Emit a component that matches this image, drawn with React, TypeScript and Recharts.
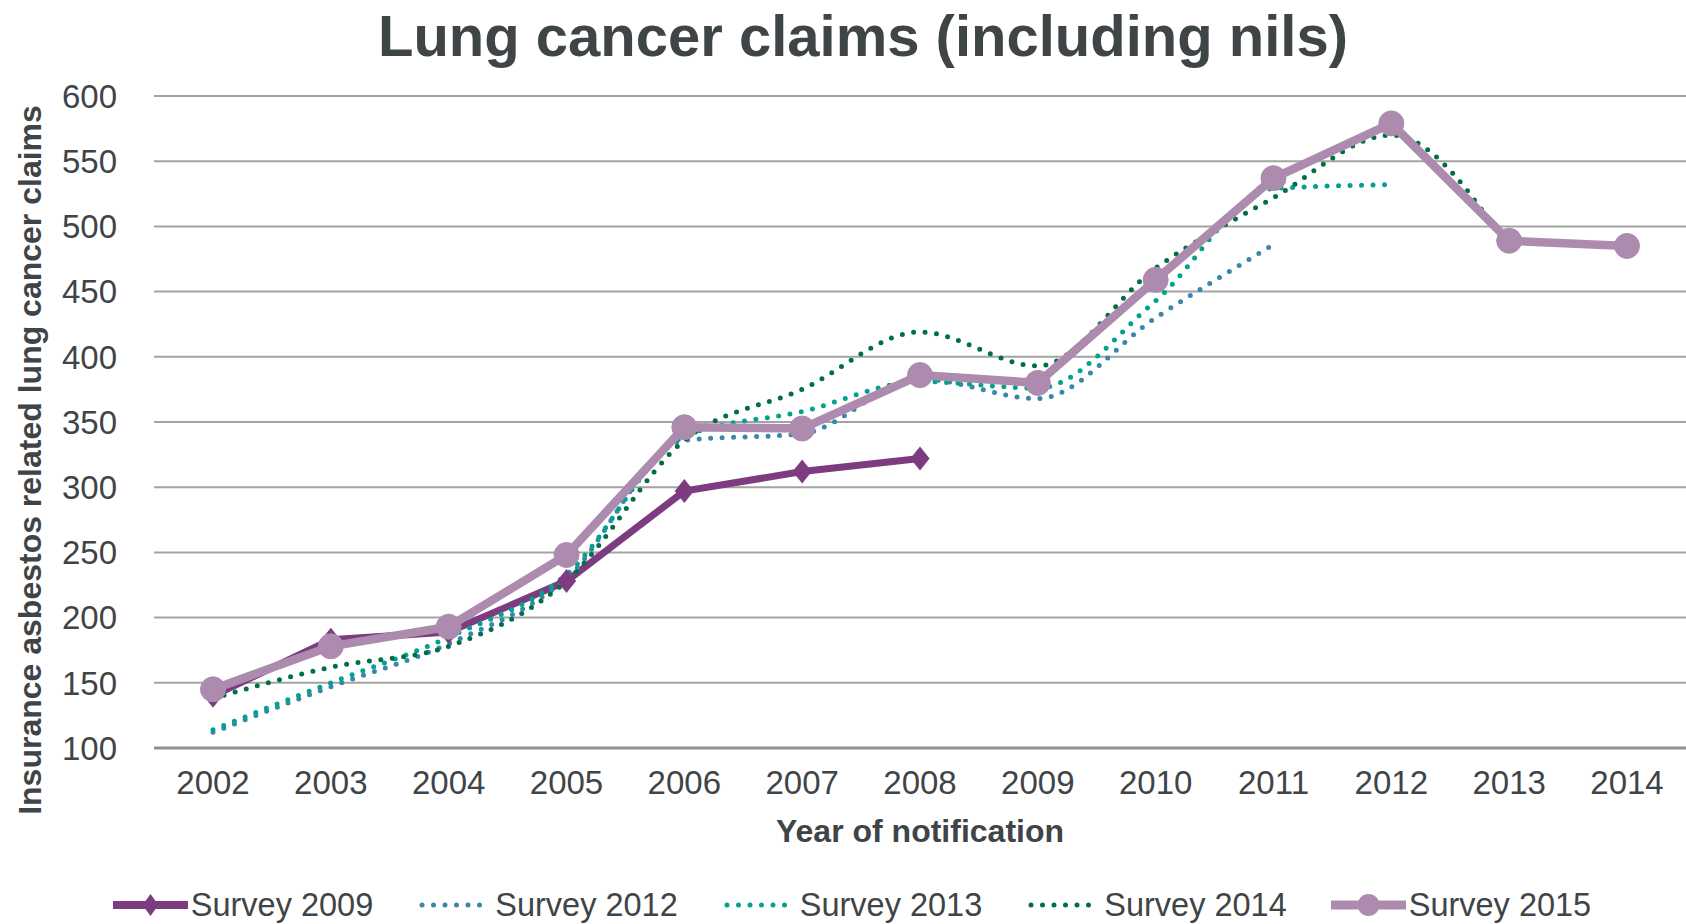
import { CartesianGrid, Line, LineChart, XAxis, YAxis } from "recharts";

const YEARS = ["2002", "2003", "2004", "2005", "2006", "2007", "2008", "2009", "2010", "2011", "2012", "2013", "2014"];

const SURVEY_2009 = [140, 183, 189, 228, 297, 312, 322, null, null, null, null, null, null];
const SURVEY_2012 = [112, 147, 180, 230, 336, 341, 383, 368, 430, 486, null, null, null];
const SURVEY_2013 = [114, 150, 185, 233, 339, 358, 381, 376, 443, 529, 532, null, null];
const SURVEY_2014 = [138, 162, 178, 228, 336, 375, 419, 393, 468, 522, 570, 483, null];
const SURVEY_2015 = [145, 178, 193, 248, 346, 345, 386, 380, 459, 537, 579, 489, 485];

const Y_TICKS = [100, 150, 200, 250, 300, 350, 400, 450, 500, 550, 600];

const FONT = '"Liberation Sans", Arial, sans-serif';
const TEXT = "#3f4447";

type Kind = "diamond" | "circle" | "dots";

const SERIES: Array<{ key: string; name: string; color: string; values: Array<number | null>; kind: Kind }> = [
  { key: "s2009", name: "Survey 2009", color: "#7d3c80", values: SURVEY_2009, kind: "diamond" },
  { key: "s2012", name: "Survey 2012", color: "#3b87aa", values: SURVEY_2012, kind: "dots" },
  { key: "s2013", name: "Survey 2013", color: "#00a38e", values: SURVEY_2013, kind: "dots" },
  { key: "s2014", name: "Survey 2014", color: "#006f45", values: SURVEY_2014, kind: "dots" },
  { key: "s2015", name: "Survey 2015", color: "#ad8baf", values: SURVEY_2015, kind: "circle" },
];

const data = YEARS.map((year, i) => {
  const row: Record<string, string | number | null> = { year };
  SERIES.forEach((s) => {
    row[s.key] = s.values[i];
  });
  return row;
});

function Diamond(props: any) {
  const { cx, cy, index } = props;
  if (cx == null || cy == null || props.value == null) return <g key={`d-${index}`} />;
  const r = 12;
  return (
    <path
      key={`d-${index}`}
      d={`M${cx},${cy - r} L${cx + r * 0.8},${cy} L${cx},${cy + r} L${cx - r * 0.8},${cy} Z`}
      fill="#7d3c80"
    />
  );
}

function LegendSample({ color, kind }: { color: string; kind: Kind }) {
  return (
    <svg width={75} height={30}>
      {kind === "dots" ? (
        <line x1={5} y1={15} x2={68} y2={15} stroke={color} strokeWidth={5} strokeDasharray="0 11.5" strokeLinecap="round" />
      ) : (
        <line x1={0} y1={15} x2={75} y2={15} stroke={color} strokeWidth={kind === "circle" ? 9 : 8} />
      )}
      {kind === "circle" && <circle cx={37.5} cy={15} r={11} fill={color} />}
      {kind === "diamond" && <path d="M37.5,4 L45.5,15 L37.5,26 L29.5,15 Z" fill={color} />}
    </svg>
  );
}

export default function App() {
  return (
    <div style={{ position: "absolute", left: 0, top: 0, width: 1686, height: 924, background: "#fff", fontFamily: FONT }}>
      <div
        style={{
          position: "absolute",
          left: 20,
          top: 7,
          width: 1686,
          textAlign: "center",
          fontSize: 58,
          lineHeight: "58px",
          fontWeight: 700,
          color: TEXT,
        }}
      >
        Lung cancer claims (including nils)
      </div>
      <LineChart width={1686} height={924} data={data} margin={{ top: 96, right: 0, bottom: 76, left: 0 }}>
        <CartesianGrid vertical={false} stroke="#a3a3a3" strokeWidth={2} />
        <XAxis
          dataKey="year"
          height={100}
          padding={{ left: 59, right: 59 }}
          tickLine={false}
          axisLine={{ stroke: "#8f8f8f", strokeWidth: 3 }}
          tickMargin={17}
          interval={0}
          tick={{ fill: TEXT, fontSize: 33, fontFamily: FONT }}
          label={{
            content: (props: any) => {
              const vb = props.viewBox;
              return (
                <text
                  x={vb.x + vb.width / 2}
                  y={vb.y + 94}
                  textAnchor="middle"
                  fill={TEXT}
                  fontSize={32}
                  fontWeight={700}
                  fontFamily={FONT}
                >
                  Year of notification
                </text>
              );
            },
          }}
        />
        <YAxis
          width={154}
          domain={[100, 600]}
          ticks={Y_TICKS}
          interval={0}
          tickLine={false}
          axisLine={false}
          tickMargin={31}
          tick={{ fill: TEXT, fontSize: 33, fontFamily: FONT }}
          label={{
            content: (props: any) => {
              const vb = props.viewBox;
              const cx = vb.x + 30;
              const cy = vb.y + vb.height / 2 + 38;
              return (
                <text
                  x={cx}
                  y={cy}
                  transform={`rotate(-90 ${cx} ${cy})`}
                  textAnchor="middle"
                  dominantBaseline="central"
                  fill={TEXT}
                  fontSize={32}
                  fontWeight={700}
                  fontFamily={FONT}
                >
                  Insurance asbestos related lung cancer claims
                </text>
              );
            },
          }}
        />
        {SERIES.map((s) =>
          s.kind === "dots" ? (
            <Line
              key={s.key}
              dataKey={s.key}
              name={s.name}
              type="monotone"
              stroke={s.color}
              strokeWidth={5}
              strokeDasharray="0 11.5"
              strokeLinecap="round"
              dot={false}
              activeDot={false}
              isAnimationActive={false}
            />
          ) : s.kind === "diamond" ? (
            <Line
              key={s.key}
              dataKey={s.key}
              name={s.name}
              type="linear"
              stroke={s.color}
              strokeWidth={7}
              dot={<Diamond />}
              activeDot={false}
              isAnimationActive={false}
            />
          ) : (
            <Line
              key={s.key}
              dataKey={s.key}
              name={s.name}
              type="linear"
              stroke={s.color}
              strokeWidth={8.5}
              dot={{ r: 12.5, fill: s.color, stroke: s.color, strokeWidth: 1 }}
              activeDot={false}
              isAnimationActive={false}
            />
          )
        )}
      </LineChart>
      <div
        style={{
          position: "absolute",
          left: 0,
          top: 885,
          width: 1686,
          height: 40,
          display: "flex",
          justifyContent: "center",
          alignItems: "center",
          gap: 44,
          paddingLeft: 18,
          boxSizing: "border-box",
        }}
      >
        {SERIES.map((s) => (
          <div key={s.key} style={{ display: "flex", alignItems: "center", gap: 3 }}>
            <LegendSample color={s.color} kind={s.kind} />
            <span style={{ fontSize: 32.5, lineHeight: "40px", color: TEXT }}>{s.name}</span>
          </div>
        ))}
      </div>
    </div>
  );
}
